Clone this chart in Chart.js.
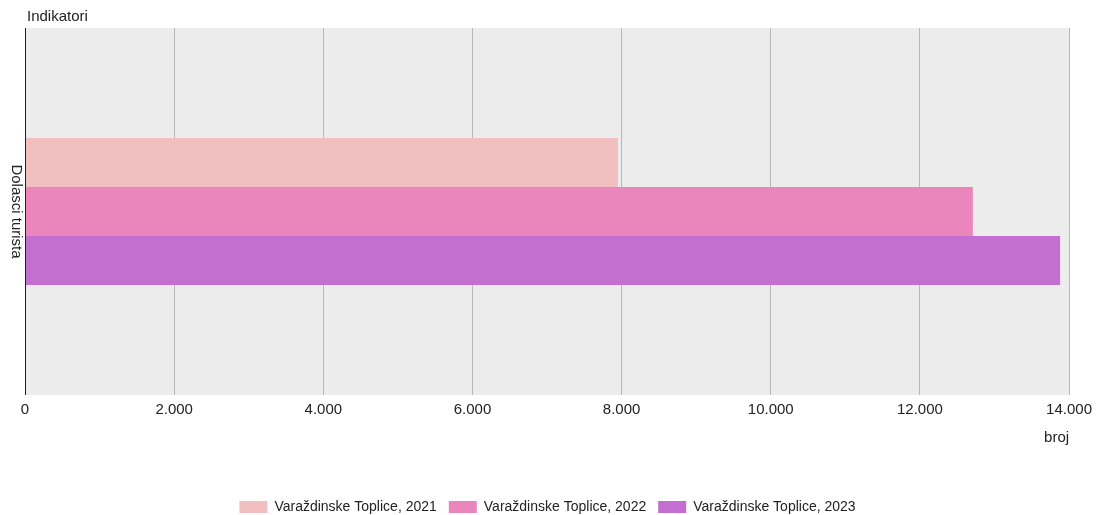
<!DOCTYPE html>
<html>
<head>
<meta charset="utf-8">
<script src="https://cdn.jsdelivr.net/npm/chart.js@4/dist/chart.umd.min.js"></script>
<style>
  html, body { margin: 0; padding: 0; background: #fff; }
  #wrap { width: 1098px; height: 515px; position: relative; }
</style>
</head>
<body>
<div id="wrap"><canvas id="grafikon"></canvas></div>
<script>
// podaci
const kategorije = ['Dolasci turista'];
const serije = ['Varaždinske Toplice, 2021', 'Varaždinske Toplice, 2022', 'Varaždinske Toplice, 2023'];
const vrijednosti2021 = [7950];
const vrijednosti2022 = [12710];
const vrijednosti2023 = [13880];
const boje = ['#f2bfc1', '#ea86bb', '#c36fd0'];
const naslovY = 'Indikatori';
const naslovX = 'broj';

const FONT = '"Liberation Sans", Arial, sans-serif';

function formatBroj(v) {
    return String(v).replace(/(\d)(?=(\d{3})+(?!\d))/g, '$1.');
}

// pozadina podrucja grafa + okomita oznaka kategorije + naslov gore lijevo
const pozadina = {
    id: 'pozadina',
    beforeDraw(chart) {
        const a = chart.chartArea, ctx = chart.ctx;
        ctx.save();
        ctx.fillStyle = '#ececec';
        ctx.fillRect(a.left, a.top, a.right - a.left, a.bottom - a.top);
        ctx.restore();
    },
    afterDraw(chart) {
        const a = chart.chartArea, ctx = chart.ctx;
        const y = chart.scales.y;
        ctx.save();
        ctx.font = '15px ' + FONT;
        ctx.fillStyle = '#222';
        ctx.textBaseline = 'middle';
        ctx.textAlign = 'left';
        ctx.fillText(naslovY, a.left + 2, 17);
        kategorije.forEach(function(k, i) {
            ctx.save();
            ctx.translate(a.left - 9, y.getPixelForTick(i));
            ctx.rotate(Math.PI / 2);
            ctx.textAlign = 'center';
            ctx.fillText(k, 0, 0);
            ctx.restore();
        });
        // lijeva os
        ctx.strokeStyle = '#222';
        ctx.lineWidth = 1;
        ctx.beginPath();
        ctx.moveTo(a.left + 0.5, a.top);
        ctx.lineTo(a.left + 0.5, a.bottom);
        ctx.stroke();
        ctx.restore();
    }
};

const podaci = [vrijednosti2021, vrijednosti2022, vrijednosti2023];

new Chart(document.getElementById('grafikon').getContext('2d'), {
    type: 'bar',
    data: {
        labels: kategorije,
        datasets: serije.map(function(s, i) {
            return {
                label: s,
                data: podaci[i],
                backgroundColor: boje[i],
                borderWidth: 0,
                categoryPercentage: 0.4,
                barPercentage: 1.0
            };
        })
    },
    options: {
        indexAxis: 'y',
        responsive: true,
        maintainAspectRatio: false,
        animation: false,
        layout: { padding: { left: 25, right: 28, top: 28, bottom: -9 } },
        scales: {
            x: {
                min: 0,
                max: 14000,
                ticks: {
                    stepSize: 2000,
                    color: '#222',
                    font: { family: FONT, size: 15 },
                    padding: 6,
                    maxRotation: 0,
                    callback: function(v) { return formatBroj(v); }
                },
                grid: { color: '#b8b8b8', drawTicks: false, lineWidth: 1 },
                border: { display: false },
                title: {
                    display: true,
                    text: naslovX,
                    align: 'end',
                    color: '#222',
                    font: { family: FONT, size: 15 },
                    padding: { top: 4, bottom: 41 }
                }
            },
            y: {
                ticks: { display: false },
                grid: { display: false },
                border: { display: false },
                afterFit: function(scale) { scale.width = 0; }
            }
        },
        plugins: {
            legend: {
                position: 'bottom',
                labels: {
                    boxWidth: 28,
                    boxHeight: 12,
                    color: '#222',
                    padding: 12,
                    font: { family: FONT, size: 14 }
                }
            },
            tooltip: { enabled: false }
        }
    },
    plugins: [pozadina]
});
</script>
</body>
</html>
